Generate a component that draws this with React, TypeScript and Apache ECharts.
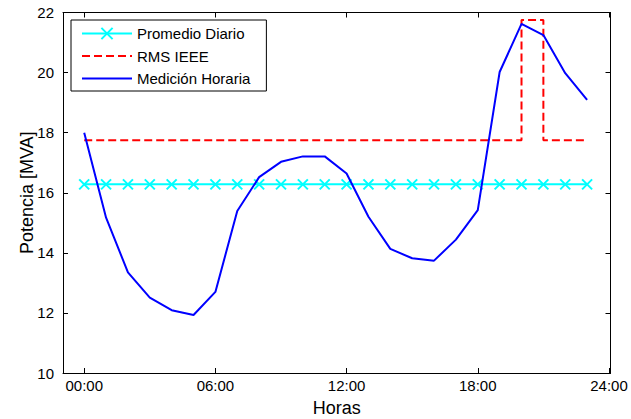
import React, { useEffect, useRef } from "react";
import * as echarts from "echarts";

const hours = [0, 1, 2, 3, 4, 5, 6, 7, 8, 9, 10, 11, 12, 13, 14, 15, 16, 17, 18, 19, 20, 21, 22, 23];
const medicionHoraria = [18.0, 15.17, 13.35, 12.51, 12.09, 11.93, 12.7, 15.39, 16.52, 17.03, 17.21, 17.21, 16.64, 15.2, 14.13, 13.82, 13.74, 14.44, 15.42, 20.02, 21.62, 21.25, 19.98, 19.09];
const promedioDiario = 16.28;
const rmsIeeeX = [0, 20, 20, 21, 21, 23];
const rmsIeeeY = [17.75, 17.75, 21.75, 21.75, 17.75, 17.75];
const xTicks = [0, 6, 12, 18, 24];

const FONT = "Liberation Sans, Arial, Helvetica, sans-serif";

export default function App() {
  const ref = useRef<HTMLDivElement>(null);
  useEffect(() => {
    if (!ref.current) return;
    const chart = echarts.init(ref.current, undefined, { renderer: "svg" });
    const xCommon = {
      type: "value" as const,
      min: -0.97,
      max: 24.07,
      splitLine: { show: false },
      axisLine: { show: true, onZero: false, lineStyle: { color: "#000", width: 1 } },
    };
    const yCommon = {
      type: "value" as const,
      min: 10,
      max: 22,
      interval: 2,
      splitLine: { show: false },
      axisLine: { show: true, onZero: false, lineStyle: { color: "#000", width: 1 } },
    };
    chart.setOption({
      animation: false,
      backgroundColor: "#fff",
      textStyle: { fontFamily: FONT },
      grid: { left: 63, right: 20.5, top: 12.5, bottom: 46, containLabel: false, outerBoundsMode: "none" },
      legend: {
        orient: "vertical",
        left: 71,
        top: 20,
        itemWidth: 50,
        itemHeight: 14,
        itemGap: 7.5,
        padding: [6, 16, 5, 10],
        borderColor: "#000",
        borderWidth: 1,
        backgroundColor: "#fff",
        textStyle: { fontFamily: FONT, fontSize: 15, color: "#000" },
        data: [
          { name: "Promedio Diario" },
          { name: "RMS IEEE", itemStyle: { opacity: 0 } },
          { name: "Medición Horaria", itemStyle: { opacity: 0 } },
        ],
      },
      xAxis: [
        {
          ...xCommon,
          position: "bottom",
          name: "Horas",
          nameLocation: "middle",
          nameGap: 26,
          nameMoveOverlap: false,
          nameTextStyle: { fontFamily: FONT, fontSize: 18, color: "#000" },
          axisTick: { show: true, inside: true, length: 5, customValues: xTicks, lineStyle: { color: "#000" } },
          axisLabel: {
            show: true,
            customValues: xTicks,
            margin: 5,
            fontFamily: FONT,
            fontSize: 15,
            color: "#000",
            formatter: (v: number) => String(v).padStart(2, "0") + ":00",
          },
        },
        {
          ...xCommon,
          position: "top",
          axisTick: { show: true, inside: true, length: 5, customValues: xTicks, lineStyle: { color: "#000" } },
          axisLabel: { show: false, customValues: xTicks },
        },
      ],
      yAxis: [
        {
          ...yCommon,
          position: "left",
          name: "Potencia [MVA]",
          nameLocation: "middle",
          nameGap: 27,
          nameMoveOverlap: false,
          nameTextStyle: { fontFamily: FONT, fontSize: 18, color: "#000" },
          axisTick: { show: true, inside: true, length: 5, lineStyle: { color: "#000" } },
          axisLabel: { show: true, margin: 9, fontFamily: FONT, fontSize: 15, color: "#000" },
        },
        {
          ...yCommon,
          position: "right",
          axisTick: { show: true, inside: true, length: 5, lineStyle: { color: "#000" } },
          axisLabel: { show: false },
        },
      ],
      series: [
        {
          name: "Promedio Diario",
          type: "line",
          data: hours.map((h) => [h, promedioDiario]),
          symbol: "path://M0 0L10 10M10 0L0 10",
          symbolSize: 10,
          showSymbol: true,
          itemStyle: { color: "#00FFFF", borderColor: "#00FFFF", borderWidth: 2 },
          lineStyle: { color: "#00FFFF", width: 2 },
          z: 2,
        },
        {
          name: "RMS IEEE",
          type: "line",
          data: rmsIeeeX.map((x, i) => [x, rmsIeeeY[i]]),
          symbol: "none",
          itemStyle: { color: "#FF0000" },
          lineStyle: { color: "#FF0000", width: 2, type: [8, 4] },
          z: 3,
        },
        {
          name: "Medición Horaria",
          type: "line",
          data: hours.map((h, i) => [h, medicionHoraria[i]]),
          symbol: "none",
          itemStyle: { color: "#0000FF" },
          lineStyle: { color: "#0000FF", width: 2 },
          z: 4,
        },
      ],
    });
    return () => chart.dispose();
  }, []);
  return <div ref={ref} style={{ width: 631, height: 419, position: "absolute", left: 0, top: 0 }} />;
}
